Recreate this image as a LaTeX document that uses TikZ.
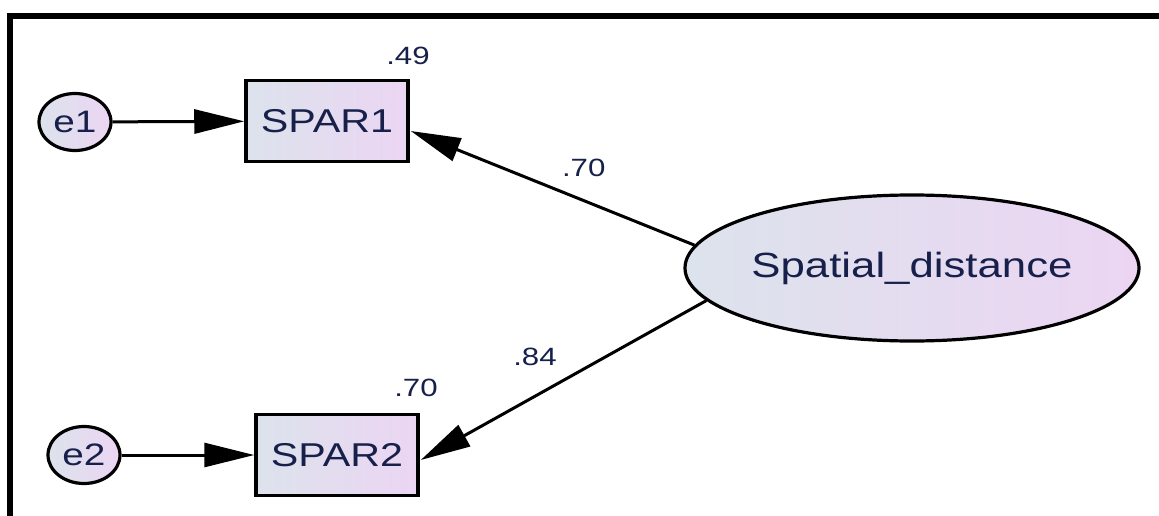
\documentclass[tikz,border=0pt]{standalone}
\usepackage{fontspec}
\setmainfont{Liberation Sans}[FakeStretch=1.25]
\usetikzlibrary{arrows.meta,shapes.geometric,calc}
\definecolor{ink}{HTML}{17204A}
\definecolor{fillL}{HTML}{DCE3EC}
\definecolor{fillR}{HTML}{ECD5F3}
\begin{document}
\begin{tikzpicture}[x=1pt,y=-1pt,
  latent/.style={ellipse,draw=black,line width=3.2pt,left color=fillL,right color=fillR,
    inner sep=0pt,text=ink},
  observed/.style={rectangle,draw=black,line width=3.5pt,left color=fillL,right color=fillR,
    minimum width=162pt,minimum height=81pt,inner sep=0pt,text=ink,
    font=\fontsize{33pt}{38pt}\selectfont},
  errnode/.style={latent,minimum width=72pt,minimum height=57pt,
    font=\fontsize{31pt}{36pt}\selectfont},
  coef/.style={text=ink,inner sep=0pt,font=\fontsize{25pt}{30pt}\selectfont},
  path/.style={line width=3pt,-{Triangle[length=50pt,width=24pt]}}]
\useasboundingbox (0,0) rectangle (1159,516);
% frame lines along the top and left edges
\draw[line width=6pt,line join=miter] (1159,16) -- (10,16) -- (10,516);

% latent factor
\node[latent,minimum width=440pt,minimum height=146pt,
  font=\fontsize{35pt}{40pt}\selectfont] (sd) at (912,268) {Spatial\_distance};

% indicators
\node[observed] (spar1) at (327,121) {SPAR1};
\node[observed] (spar2) at (337,455) {SPAR2};

% error terms
\node[errnode] (e1) at (75,122) {e1};
\node[errnode] (e2) at (84,455) {e2};

% squared multiple correlations
\node[coef] (r1) at (408,56) {.49};
\node[coef] (r2) at (416,388) {.70};

% paths
\draw[path] (e1) -- (spar1);
\draw[path] (e2) -- (spar2);
\draw[path] (sd.174) -- ($(spar1.east)+(1,10)$)
  node[coef,pos=0.39,above=22pt] (l1) {.70};
\draw[path] (sd.189) -- ($(spar2.east)+(1,5)$)
  node[coef,pos=0.6,above=29pt] (l2) {.84};
\end{tikzpicture}
\end{document}
